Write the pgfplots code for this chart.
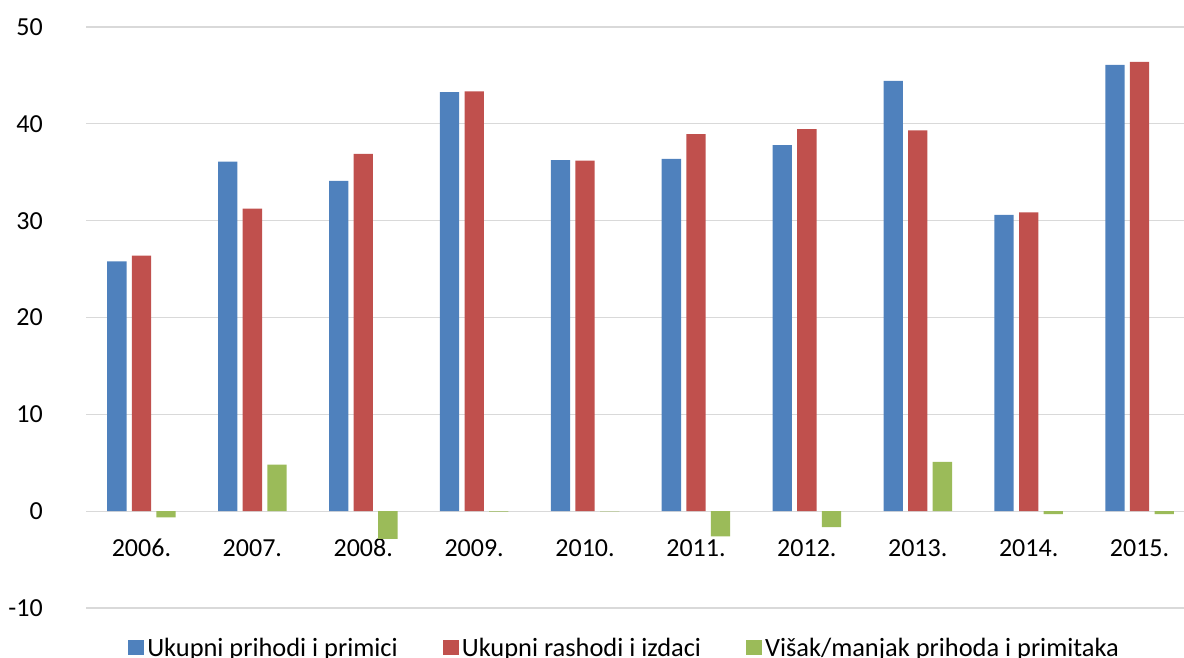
\documentclass[border=0pt]{standalone}
\usepackage{pgfplots}
\pgfplotsset{compat=1.18}
\usepackage{fontspec}
\setmainfont{Carlito}
\definecolor{cblue}{HTML}{4F81BD}
\definecolor{cred}{HTML}{C0504D}
\definecolor{cgreen}{HTML}{9BBB59}
\definecolor{gridgray}{HTML}{D9D9D9}
\begin{document}
\begin{tikzpicture}[font=\fontsize{26}{31}\selectfont]
\useasboundingbox (0,0) rectangle (1184pt,658pt);
\begin{axis}[
  at={(86pt,50pt)}, anchor=south west,
  scale only axis, width=1098pt, height=581pt,
  xmin=-0.5, xmax=9.4, ymin=-10, ymax=50,
  ytick={-10,0,10,20,30,40,50},
  xtick={0,1,2,3,4,5,6,7,8,9},
  xticklabels={2006.,2007.,2008.,2009.,2010.,2011.,2012.,2013.,2014.,2015.},
  ymajorgrids, grid style={draw=gridgray, line width=1.3pt},
  axis line style={draw=none}, major tick length=0pt,
  tick label style={font=\fontsize{26}{31}\selectfont, text=black},
  /pgf/number format/assume math mode=true,
  yticklabel style={anchor=east, inner sep=0pt, xshift=-43pt},
  xticklabel style={anchor=center, inner sep=0pt, yshift=60pt},
  ybar=5.3pt, bar width=19.3pt,
  legend style={draw=none, fill=none, at={(0.491,-0.0688)}, anchor=center,
    legend columns=-1, font=\fontsize{26.4}{31}\selectfont,
    /tikz/every even column/.append style={column sep=42pt},
    nodes={inner xsep=3pt, inner ysep=0pt, text=black}},
  legend image code/.code={\fill[#1] (-4pt,-7.5pt) rectangle (12pt,7.5pt);},
]
\addplot[fill=cblue, draw=none] coordinates {
(0,25.8) (1,36.1) (2,34.1) (3,43.27) (4,36.24) (5,36.37) (6,37.8) (7,44.44) (8,30.6) (9,46.1)};
\addplot[fill=cred, draw=none] coordinates {
(0,26.4) (1,31.25) (2,36.9) (3,43.36) (4,36.2) (5,38.93) (6,39.45) (7,39.32) (8,30.86) (9,46.4)};
\addplot[fill=cgreen, draw=none] coordinates {
(0,-0.65) (1,4.8) (2,-2.86) (3,-0.05) (4,-0.02) (5,-2.6) (6,-1.65) (7,5.08) (8,-0.3) (9,-0.3)};
\legend{Ukupni prihodi i primici, Ukupni rashodi i izdaci, Višak/manjak prihoda i primitaka}
\end{axis}
\end{tikzpicture}
\end{document}
